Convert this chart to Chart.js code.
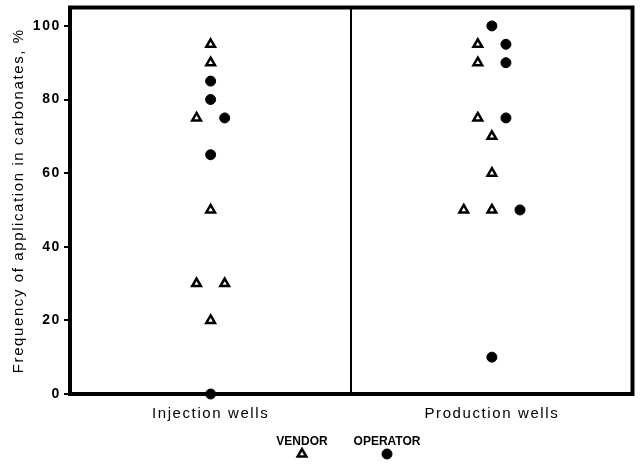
<!DOCTYPE html>
<html>
<head>
<meta charset="utf-8">
<script src="https://cdn.jsdelivr.net/npm/chart.js@4"></script>
<style>
  html, body { margin: 0; padding: 0; background: #fff; }
  #wrap { width: 640px; height: 464px; }
</style>
</head>
<body>
<div id="wrap"><canvas id="chart"></canvas></div>
<script>
// categories sit at x = 0.5 and 1.5, the divider at 1
var categories = ['Injection wells', 'Production wells'];
var categoryPos = [0.5, 1.5];
var yTicks = [0, 20, 40, 60, 80, 100];

// x is category position plus small jitter used in the original plot
var vendorX = [0.5, 0.5, 0.45, 0.5, 0.45, 0.55, 0.5, 1.45, 1.45, 1.45, 1.5, 1.5, 1.4, 1.5];
var vendorY = [95, 90, 75, 50, 30, 30, 20, 95, 90, 75, 70, 60, 50, 50];
var operatorX = [0.5, 0.5, 0.55, 0.5, 0.5, 1.5, 1.55, 1.55, 1.55, 1.6, 1.5];
var operatorY = [85, 80, 75, 65, 0, 100, 95, 90, 75, 50, 10];

function toPoints(xs, ys) {
    var pts = [];
    for (var i = 0; i < xs.length; i++) pts.push({ x: xs[i], y: ys[i] });
    return pts;
}

var font = 'Liberation Sans, Arial, sans-serif';

// the original lettering is widely spaced
function spacing(chart) {
    chart.ctx.letterSpacing = '1.6px';
}

// fixed axis box, no extra room for label overhang
function fixBox(w, h) {
    return function (axis) {
        if (w) axis.width = w;
        if (h) axis.height = h;
        axis.paddingTop = 0;
        axis.paddingBottom = 0;
        axis.paddingLeft = 0;
        axis.paddingRight = 0;
    };
}

var framePlugin = {
    id: 'frame',
    beforeUpdate: spacing,
    beforeLayout: spacing,
    beforeDraw: spacing,
    // thick frame and divider between the two groups
    beforeDatasetsDraw: function (chart) {
        var ctx = chart.ctx;
        var a = chart.chartArea;
        var xs = chart.scales.x;
        ctx.save();
        ctx.strokeStyle = '#000';
        ctx.lineWidth = 2;
        var dx = Math.round(xs.getPixelForValue(1));
        ctx.beginPath();
        ctx.moveTo(dx, a.top);
        ctx.lineTo(dx, a.bottom);
        ctx.stroke();
        ctx.lineWidth = 4;
        ctx.strokeRect(a.left, a.top, a.right - a.left, a.bottom - a.top);
        ctx.restore();
    },
    // legend: label over marker
    afterDraw: function (chart) {
        var ctx = chart.ctx;
        ctx.save();
        ctx.letterSpacing = '0px';
        ctx.font = 'bold 12px ' + font;
        ctx.textAlign = 'center';
        ctx.textBaseline = 'middle';
        var items = [
            { ds: chart.data.datasets[0], x: 302 },
            { ds: chart.data.datasets[1], x: 387 }
        ];
        items.forEach(function (it) {
            ctx.fillStyle = '#000';
            ctx.fillText(it.ds.label, it.x, 442);
            ctx.lineWidth = it.ds.borderWidth;
            ctx.strokeStyle = it.ds.borderColor;
            ctx.fillStyle = it.ds.backgroundColor;
            Chart.helpers.drawPoint(ctx, {
                pointStyle: it.ds.pointStyle,
                radius: it.ds.pointRadius,
                borderWidth: it.ds.borderWidth
            }, it.x, 454);
        });
        ctx.restore();
    }
};

new Chart(document.getElementById('chart'), {
    type: 'scatter',
    data: {
        datasets: [{
            label: 'VENDOR',
            data: toPoints(vendorX, vendorY),
            pointStyle: 'triangle',
            pointRadius: 5,
            borderWidth: 2.5,
            borderColor: '#000',
            backgroundColor: '#fff',
            clip: false
        }, {
            label: 'OPERATOR',
            data: toPoints(operatorX, operatorY),
            pointStyle: 'circle',
            pointRadius: 5,
            borderWidth: 1,
            borderColor: '#000',
            backgroundColor: '#000',
            clip: false
        }]
    },
    options: {
        responsive: true,
        maintainAspectRatio: false,
        animation: false,
        layout: { padding: { top: 6, right: -1, bottom: 0, left: 0 } },
        plugins: {
            legend: { display: false },
            tooltip: { enabled: false }
        },
        scales: {
            x: {
                type: 'linear',
                min: 0,
                max: 2,
                afterBuildTicks: function (axis) {
                    axis.ticks = categoryPos.map(function (v) { return { value: v }; });
                },
                afterFit: fixBox(0, 70),
                grid: { display: false, drawTicks: false },
                border: { display: false },
                ticks: {
                    color: '#000',
                    font: { family: font, size: 15 },
                    padding: 11,
                    maxRotation: 0,
                    callback: function (value) {
                        var i = categoryPos.indexOf(value);
                        return i >= 0 ? categories[i] : '';
                    }
                }
            },
            y: {
                min: 0,
                max: 105,
                afterBuildTicks: function (axis) {
                    axis.ticks = yTicks.map(function (v) { return { value: v }; });
                },
                afterFit: fixBox(70, 0),
                grid: {
                    display: true,
                    drawOnChartArea: false,
                    drawTicks: true,
                    tickLength: 6,
                    color: '#000',
                    lineWidth: 2
                },
                border: { display: false },
                ticks: {
                    color: '#000',
                    font: { family: font, size: 14, weight: 'bold' },
                    padding: 3
                },
                title: {
                    display: true,
                    text: 'Frequency of application in carbonates, %',
                    color: '#000',
                    font: { family: font, size: 15 },
                    padding: { top: 10, bottom: 0 }
                }
            }
        }
    },
    plugins: [framePlugin]
});
</script>
</body>
</html>
